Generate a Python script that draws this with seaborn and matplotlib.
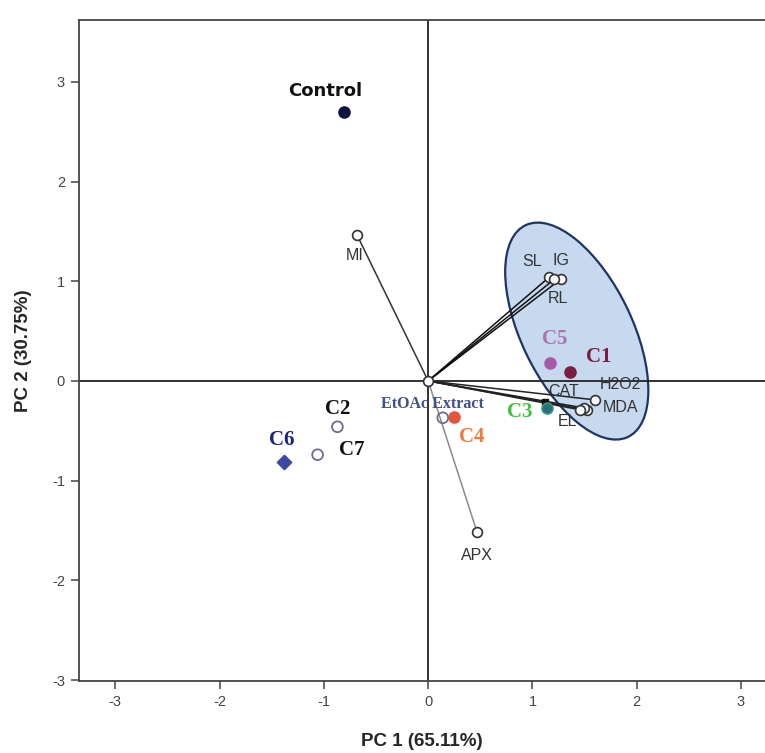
import numpy as np
import pandas as pd
import matplotlib
matplotlib.use("Agg")
import matplotlib.pyplot as plt
from matplotlib.patches import Ellipse
import seaborn as sns

# loadings (variables)
var_names = ["MI", "SL", "IG", "RL", "H2O2", "MDA", "CAT", "EL", "APX"]
var_pc1 = [-0.68, 1.16, 1.27, 1.21, 1.60, 1.52, 1.49, 1.46, 0.47]
var_pc2 = [1.46, 1.04, 1.02, 1.02, -0.19, -0.29, -0.27, -0.29, -1.52]
var_line_col = ["#333333", "#111111", "#111111", "#111111", "#222222",
                "#222222", "#222222", "#222222", "#8a8a8a"]
var_lab_x = [-0.70, 1.00, 1.27, 1.24, 1.84, 1.84, 1.30, 1.34, 0.47]
var_lab_y = [1.26, 1.20, 1.21, 0.83, -0.04, -0.27, -0.11, -0.41, -1.75]

# scores (treatments)
obs_names = ["Control", "C1", "C5", "C3", "C4", "EtOAc Extract", "C2", "C7", "C6"]
obs_pc1 = [-0.81, 1.36, 1.17, 1.14, 0.25, 0.14, -0.87, -1.06, -1.38]
obs_pc2 = [2.70, 0.09, 0.18, -0.27, -0.36, -0.37, -0.46, -0.74, -0.81]
obs_face = ["#0b1640", "#7a1e40", "#a55aa5", "#2d6c86", "#e5553a",
            "none", "none", "none", "#3b4aa0"]
obs_edge = ["#0b1640", "#7a1e40", "#a55aa5", "#2f9a6a", "#e5553a",
            "#6d6d95", "#6d6d95", "#6d6d95", "#3b4aa0"]
obs_marker = ["o", "o", "o", "o", "o", "o", "o", "o", "D"]
obs_lab_col = ["#111111", "#7a1e40", "#b070b0", "#3cc43c", "#f07a3a",
               "#3f4f8f", "#111111", "#111111", "#1a237e"]
obs_lab_x = [-0.99, 1.64, 1.21, 0.88, 0.42, 0.04, -0.87, -0.73, -1.40]
obs_lab_y = [2.91, 0.24, 0.42, -0.31, -0.56, -0.23, -0.28, -0.69, -0.59]

sns.set_style("ticks")
plt.rcParams["font.family"] = ["Liberation Sans", "DejaVu Sans"]
plt.rcParams["axes.unicode_minus"] = False

fig = plt.figure(figsize=(7.65, 7.53), dpi=100)
ax = fig.add_axes([0.103, 0.0956, 0.897, 0.8778])

# highlighted cluster
ell = Ellipse((1.425, 0.50), width=2.34, height=1.07, angle=-65.6,
              facecolor="#c6d9ee", edgecolor="#1c3564", lw=1.6, zorder=1)
ax.add_patch(ell)

ax.axhline(0, color="#222222", lw=1.3, zorder=2)
ax.axvline(0, color="#222222", lw=1.3, zorder=2)

# loading vectors
for i in range(len(var_names)):
    ax.plot([0, var_pc1[i]], [0, var_pc2[i]], color=var_line_col[i], lw=1.1, zorder=3)
    ax.text(var_lab_x[i], var_lab_y[i], var_names[i], ha="center", va="center",
            fontsize=11.5, color="#333333", zorder=6)

var_df = pd.DataFrame({"pc1": var_pc1 + [0], "pc2": var_pc2 + [0]})
sns.scatterplot(data=var_df, x="pc1", y="pc2", ax=ax, marker="o", s=50,
                facecolor="white", edgecolor="#333333", linewidth=1.2, zorder=4)

ax.scatter([1.12], [-0.21], marker="s", s=22, color="#111111", zorder=4)

# scores
for i in range(len(obs_names)):
    d = pd.DataFrame({"pc1": [obs_pc1[i]], "pc2": [obs_pc2[i]]})
    sns.scatterplot(data=d, x="pc1", y="pc2", ax=ax, marker=obs_marker[i],
                    s=60 if obs_marker[i] == "o" else 50,
                    facecolor=obs_face[i], edgecolor=obs_edge[i],
                    linewidth=1.3, zorder=5)
    if obs_names[i] == "Control":
        ax.text(obs_lab_x[i], obs_lab_y[i], obs_names[i], ha="center", va="center",
                fontsize=13, fontweight="bold", family="DejaVu Sans",
                color=obs_lab_col[i], zorder=6)
    elif obs_names[i] == "EtOAc Extract":
        ax.text(obs_lab_x[i], obs_lab_y[i], obs_names[i], ha="center", va="center",
                fontsize=11.5, fontweight="bold", family="Liberation Serif",
                color=obs_lab_col[i], zorder=6)
    else:
        ax.text(obs_lab_x[i], obs_lab_y[i], obs_names[i], ha="center", va="center",
                fontsize=15, fontweight="bold", family="Liberation Serif",
                color=obs_lab_col[i], zorder=6)

ax.set_xlim(-3.35, 3.23)
ax.set_ylim(-3.01, 3.62)
ax.set_xticks([-3, -2, -1, 0, 1, 2, 3])
ax.set_yticks([-3, -2, -1, 0, 1, 2, 3])
ax.tick_params(direction="out", length=6, width=1.1, color="#444444",
               labelsize=10.5, labelcolor="#444444", pad=4)
for sp in ax.spines.values():
    sp.set_color("#444444")
    sp.set_linewidth(1.3)
ax.spines["right"].set_visible(False)

ax.set_xlabel("PC 1 (65.11%)", fontsize=13.5, fontweight="bold", labelpad=17)
ax.set_ylabel("PC 2 (30.75%)", fontsize=13.5, fontweight="bold", labelpad=14)

fig.savefig("out.png", dpi=100)
